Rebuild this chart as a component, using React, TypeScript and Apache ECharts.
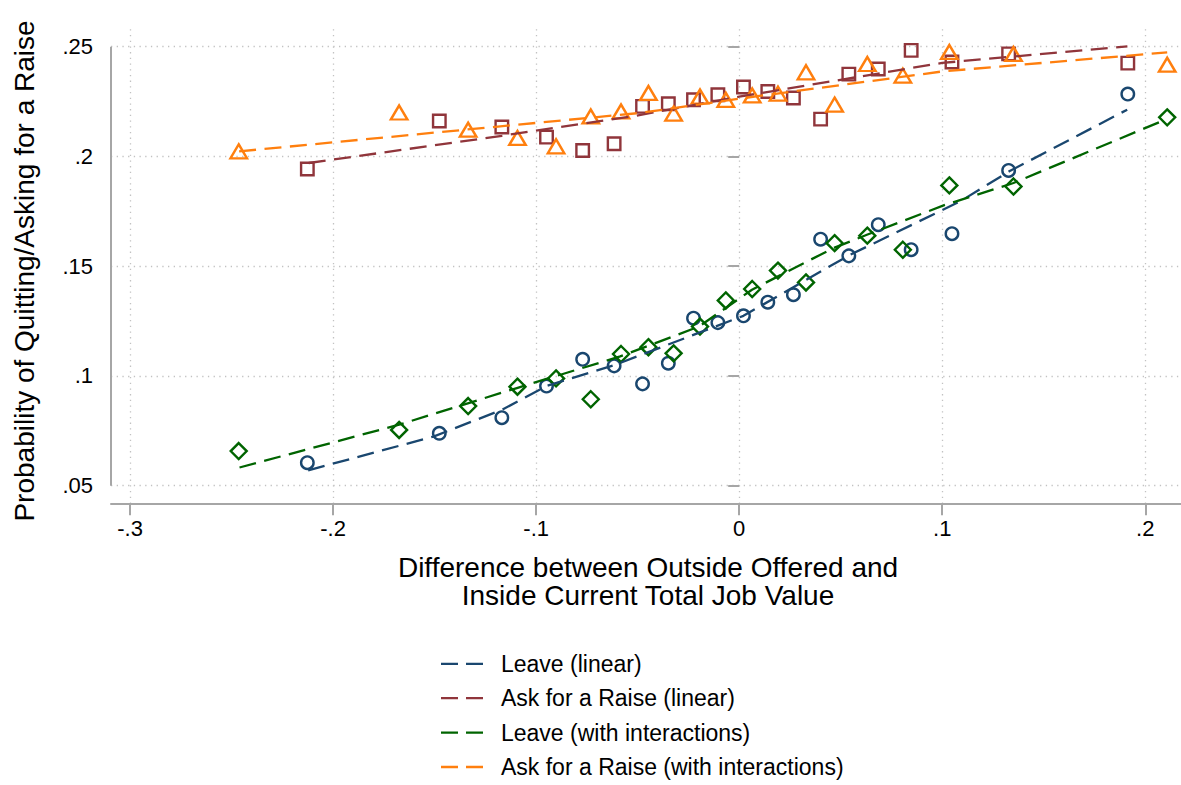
import { useEffect, useRef } from "react";
import * as echarts from "echarts";

// bin positions (x) and bin means (y)
const xLinear = [-0.2127, -0.1477, -0.1169, -0.0949, -0.0771, -0.0616, -0.0476, -0.0349, -0.0225, -0.0105, 0.0021, 0.0141, 0.0267, 0.0401, 0.054, 0.0685, 0.0847, 0.1048, 0.1327, 0.1914];
const leaveLinear = [0.0605, 0.0739, 0.081, 0.0954, 0.1076, 0.1046, 0.0964, 0.1058, 0.1263, 0.1243, 0.1274, 0.1336, 0.137, 0.1623, 0.1547, 0.1689, 0.1575, 0.1648, 0.1936, 0.2284];
const raiseLinear = [0.1943, 0.2161, 0.2134, 0.2088, 0.2027, 0.2058, 0.2228, 0.224, 0.2258, 0.2281, 0.2316, 0.2296, 0.2266, 0.217, 0.2375, 0.2398, 0.2483, 0.243, 0.2467, 0.2425];

const xInter = [-0.2465, -0.1675, -0.1335, -0.1092, -0.0902, -0.0731, -0.0582, -0.0447, -0.0323, -0.0193, -0.0066, 0.0064, 0.0191, 0.0329, 0.047, 0.0631, 0.0806, 0.1035, 0.1351, 0.2108];
const leaveInter = [0.0658, 0.0754, 0.0863, 0.0951, 0.0989, 0.0894, 0.11, 0.1131, 0.1103, 0.1225, 0.1344, 0.1396, 0.148, 0.1426, 0.1605, 0.1639, 0.1575, 0.1868, 0.1863, 0.2178];
const raiseInter = [0.2023, 0.22, 0.2122, 0.2084, 0.2046, 0.2182, 0.2205, 0.2289, 0.2195, 0.2273, 0.2258, 0.2278, 0.2286, 0.2383, 0.2236, 0.2421, 0.2368, 0.2476, 0.2467, 0.2418];

// fitted lines, points
const fitLeaveLinX = [-0.2123, -0.1506, -0.1168, -0.0947, -0.0619, 0.0021, 0.0538, 0.1088, 0.133, 0.1911];
const fitLeaveLinY = [0.057, 0.0724, 0.0846, 0.0955, 0.1048, 0.1274, 0.1548, 0.1795, 0.1932, 0.2213];
const fitRaiseLinX = [-0.212, -0.1169, -0.0512, 0, 0.1, 0.1912];
const fitRaiseLinY = [0.197, 0.2094, 0.2185, 0.2272, 0.2426, 0.2501];
const fitLeaveIntX = [-0.2461, -0.1675, -0.1095, -0.0586, -0.0198, 0.0063, 0.0465, 0.0629, 0.101, 0.1351, 0.2098];
const fitLeaveIntY = [0.0583, 0.0778, 0.0945, 0.1089, 0.1225, 0.1393, 0.1583, 0.1643, 0.1778, 0.1879, 0.2167];
const fitRaiseIntX = [-0.2463, -0.0488, 0, 0.1, 0.2108];
const fitRaiseIntY = [0.2023, 0.2198, 0.2263, 0.2387, 0.2474];

const xTicks = [-0.3, -0.2, -0.1, 0, 0.1, 0.2];
const yTicks = [0.05, 0.1, 0.15, 0.2, 0.25];

const legendNames = ["Leave (linear)", "Ask for a Raise (linear)", "Leave (with interactions)", "Ask for a Raise (with interactions)"];

const X_MIN = -0.3094;
const X_MAX = 0.2176;
const Y_MIN = 0.042;
const Y_MAX = 0.2579;

const NAVY = "#1a476f";
const MAROON = "#90353b";
const GREEN = "#006400";
const ORANGE = "#ff7f0e";
const AXIS_GRAY = "#a6a6a6";
const FONT = "'Liberation Sans', Arial, Helvetica, sans-serif";
// two dashes, as Stata draws a dashed line in its legend keys
const DASH_KEY = "path://M0,0H17V2.3H0ZM25,0H42V2.3H25Z";

const zip = (xs: number[], ys: number[]) => xs.map((x, i) => [x, ys[i]]);
const stataNum = (v: number) => String(v).replace("0.", ".");

function bins(name: string, xs: number[], ys: number[], symbol: string, size: number | number[], color: string) {
  return {
    name,
    type: "scatter" as const,
    data: zip(xs, ys),
    symbol,
    symbolSize: size,
    itemStyle: { color: "none", borderColor: color, borderWidth: 2.4, opacity: 1 },
    z: 2,
    silent: true,
  };
}

function fit(name: string, xs: number[], ys: number[], color: string) {
  return {
    name,
    type: "line" as const,
    data: zip(xs, ys),
    symbol: "none",
    showSymbol: false,
    itemStyle: { color },
    lineStyle: { color, width: 2.3, type: [17, 8.5] },
    z: 3,
    silent: true,
  };
}

export default function App() {
  const ref = useRef<HTMLDivElement | null>(null);

  useEffect(() => {
    if (!ref.current) return;
    const chart = echarts.init(ref.current, undefined, { renderer: "svg" });
    chart.setOption({
      animation: false,
      backgroundColor: "#ffffff",
      textStyle: { fontFamily: FONT },
      grid: { left: 111, right: 0, top: 29.3, bottom: 281.7, outerBoundsMode: "none" },
      xAxis: {
        type: "value",
        min: X_MIN,
        max: X_MAX,
        axisLine: { show: true, onZero: false, lineStyle: { color: AXIS_GRAY, width: 2 } },
        axisTick: { show: true, customValues: xTicks, length: 12, lineStyle: { color: AXIS_GRAY, width: 2 } },
        axisLabel: { customValues: xTicks, formatter: stataNum, fontSize: 22, color: "#000", margin: 14, fontFamily: FONT },
        splitLine: { show: true, lineStyle: { color: "#c2c2c2", width: 1.3, type: [1.3, 4.4] } },
      },
      yAxis: {
        type: "value",
        min: Y_MIN,
        max: Y_MAX,
        axisLine: { show: false },
        axisTick: { show: true, customValues: yTicks, length: 11, lineStyle: { color: AXIS_GRAY, width: 2 } },
        axisLabel: { customValues: yTicks, formatter: stataNum, fontSize: 22, color: "#000", margin: 18, fontFamily: FONT },
        splitLine: { show: true, lineStyle: { color: "#c2c2c2", width: 1.3, type: [1.3, 4.4] } },
      },
      legend: {
        data: legendNames.map((name) => ({ name, icon: DASH_KEY })),
        orient: "vertical",
        left: 441,
        top: 652.3,
        height: 200,
        padding: 0,
        itemWidth: 42,
        itemHeight: 14,
        itemGap: 11.4,
        selectedMode: false,
        textStyle: { fontSize: 23, color: "#000", fontFamily: FONT, lineHeight: 14, padding: [0, 0, 0, 13] },
      },
      series: [
        bins("Leave (linear) bins", xLinear, leaveLinear, "circle", 12.5, NAVY),
        bins("Ask for a Raise (linear) bins", xLinear, raiseLinear, "rect", 12.5, MAROON),
        bins("Leave (with interactions) bins", xInter, leaveInter, "diamond", 16, GREEN),
        bins("Ask for a Raise (with interactions) bins", xInter, raiseInter, "triangle", [16.5, 14], ORANGE),
        fit(legendNames[0], fitLeaveLinX, fitLeaveLinY, NAVY),
        fit(legendNames[1], fitRaiseLinX, fitRaiseLinY, MAROON),
        fit(legendNames[2], fitLeaveIntX, fitLeaveIntY, GREEN),
        fit(legendNames[3], fitRaiseIntX, fitRaiseIntY, ORANGE),
      ],
    });

    // y axis line only spans the labelled range, as in the Stata graph
    const bottom = chart.convertToPixel({ gridIndex: 0 }, [X_MIN, yTicks[0]]) as number[];
    const top = chart.convertToPixel({ gridIndex: 0 }, [X_MIN, yTicks[yTicks.length - 1]]) as number[];
    chart.setOption({
      graphic: [
        {
          type: "line",
          shape: { x1: bottom[0], y1: bottom[1], x2: top[0], y2: top[1] },
          style: { stroke: AXIS_GRAY, lineWidth: 2 },
          silent: true,
        },
        {
          type: "text",
          x: 24,
          y: 271,
          rotation: Math.PI / 2,
          style: { text: "Probability of Quitting/Asking for a Raise", fontSize: 28, fontFamily: FONT, fill: "#000", align: "center", verticalAlign: "middle" },
          silent: true,
        },
        {
          type: "text",
          x: 648,
          y: 581.5,
          style: {
            text: "Difference between Outside Offered and\nInside Current Total Job Value",
            fontSize: 28,
            lineHeight: 28.3,
            fontFamily: FONT,
            fill: "#000",
            align: "center",
            verticalAlign: "middle",
          },
          silent: true,
        },
      ],
    });

    return () => chart.dispose();
  }, []);

  return <div ref={ref} style={{ position: "fixed", left: 0, top: 0, width: 1181, height: 785 }} />;
}
